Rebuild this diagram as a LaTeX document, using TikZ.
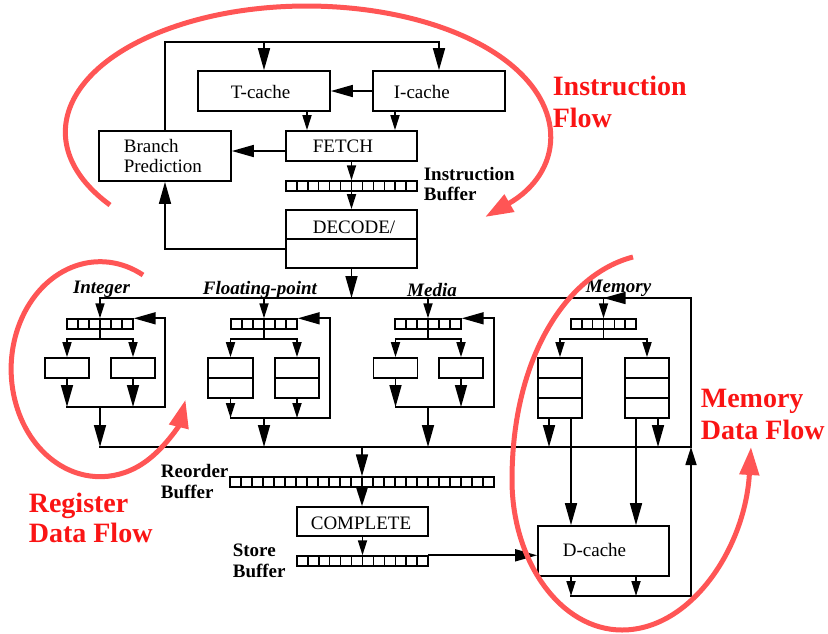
\documentclass[tikz,border=0pt]{standalone}
\usepackage{fontspec}
\setmainfont{Liberation Serif}
\usetikzlibrary{arrows.meta,calc}

\definecolor{flowred}{RGB}{255,85,85}
\definecolor{flowtext}{RGB}{250,20,20}

\tikzset{
  blk/.style={draw, rectangle, inner sep=0pt, line width=1.7pt},
  queue/.style={draw, rectangle, inner sep=0pt, line width=1.4pt, minimum height=10pt,
    path picture={\foreach \k in {1,...,#1}{
      \draw[line width=1.4pt]
        ($(path picture bounding box.south west)!{\k/#1}!(path picture bounding box.south east)$)
        -- ($(path picture bounding box.north west)!{\k/#1}!(path picture bounding box.north east)$);}}},
  tiers/.style={path picture={\foreach \k in {1,...,#1}{
      \draw[line width=1.7pt]
        ($(path picture bounding box.north west)!{\k/#1}!(path picture bounding box.south west)$)
        -- ($(path picture bounding box.north east)!{\k/#1}!(path picture bounding box.south east)$);}}},
  arrL/.style={-{Triangle[length=22pt,width=12pt]}},
  arrM/.style={-{Triangle[length=18pt,width=11pt]}},
  arrS/.style={-{Triangle[length=15pt,width=9pt]}},
  boxtext/.style={anchor=base west, inner sep=0pt, font=\fontsize{19}{22}\selectfont},
  buftag/.style={anchor=base west, inner sep=0pt, font=\bfseries\fontsize{19}{22}\selectfont},
  unitname/.style={anchor=base, inner sep=0pt, font=\bfseries\itshape\fontsize{19}{22}\selectfont},
  flowlabel/.style={anchor=base west, inner sep=0pt, text=flowtext, font=\bfseries\fontsize{28}{31}\selectfont},
  flowarc/.style={draw=flowred, line width=5pt, line cap=butt, -{Triangle[length=28pt,width=19pt]}},
}

\begin{document}
\begin{tikzpicture}[x=1pt, y=-1pt, line width=1.7pt, line cap=rect]
\useasboundingbox[fill=white] (0,0) rectangle (828,633);

% ---------- front end ----------
\node[blk, minimum width=132pt, minimum height=40pt] (tc) at (264,91) {};
\node[blk, minimum width=132pt, minimum height=40pt] (ic) at (439,91) {};
\node[blk, minimum width=132pt, minimum height=50pt] (bp) at (165,156) {};
\node[blk, minimum width=131pt, minimum height=30pt] (fe) at (351.5,146) {};
\node[queue=12, minimum width=131pt] (ib) at (351.5,186) {};
\node[blk, tiers=2, minimum width=131pt, minimum height=58pt] (de) at (351.5,239) {};

\node[boxtext] (tct) at (230,98) {T-cache};
\node[boxtext] (ict) at (393,98) {I-cache};
\node[boxtext] (fet) at (312,152) {FETCH};
\node[boxtext] (bpa) at (123,152) {Branch};
\node[boxtext] (bpb) at (123,172) {Prediction};
\node[boxtext] (det) at (312,233) {DECODE/};
\node[buftag] (iba) at (423,180) {Instruction};
\node[buftag] (ibb) at (423,200) {Buffer};

\coordinate (loop) at (165,42);
\draw[arrL] (bp.north) -- (loop) -| (ic.north);
\draw[arrL] (tc.north |- loop) -- (tc.north);
\draw[arrL] (ic.west) -- (tc.east);
\draw[arrS] ([xshift=43pt]tc.south) -- ([xshift=43pt]tc.south |- fe.north);
\draw[arrS] ([xshift=-44pt]ic.south) -- ([xshift=-44pt]ic.south |- fe.north);
\draw[arrL] ([yshift=-5pt]fe.west) -- ([yshift=-5pt]fe.west -| bp.east);
\draw[arrS] (fe.south) -- (ib.north);
\draw[arrS] (ib.south) -- (de.north);
\draw[arrL] ([yshift=-10pt]de.west) -| (bp.south);

% ---------- dispatch and result buses ----------
\coordinate (tl) at (100,298);
\coordinate (tr) at (691,298);
\coordinate (bl) at (100,447);
\coordinate (br) at (691,447);
\draw[arrL] (de.south) -- (de.south |- tl);
\draw (tl) -- (tr);
\draw (bl) -- (br);

% ---------- integer unit ----------
\node[queue=6, minimum width=66pt] (iq) at (100,324) {};
\node[blk, minimum width=44pt, minimum height=20pt] (ia) at (67,368) {};
\node[blk, minimum width=44pt, minimum height=20pt] (ix) at (133,368) {};
\coordinate (isplit) at (100,339);
\coordinate (ijoin) at (100,407);
\draw[arrS] (tl) -- (iq.north);
\draw (iq.south) -- (isplit);
\draw[arrS] (isplit) -| (ia.north);
\draw[arrS] (isplit) -| (ix.north);
\draw[arrL] (ia.south) -- (ia.south |- ijoin);
\draw[arrL] (ix.south) -- (ix.south |- ijoin);
\draw[arrL] (ia.south |- ijoin) -- (165,407) |- (iq.north east);
\draw[arrL] (ijoin) -- (bl);

% ---------- floating-point unit ----------
\node[queue=6, minimum width=66pt] (fq) at (264,324) {};
\node[blk, tiers=2, minimum width=45pt, minimum height=40pt] (fa) at (230.5,378) {};
\node[blk, tiers=2, minimum width=44pt, minimum height=40pt] (fx) at (297,378) {};
\coordinate (fsplit) at (264,339);
\coordinate (fjoin) at (264,418);
\draw[arrS] (fq.north |- tl) -- (fq.north);
\draw (fq.south) -- (fsplit);
\draw[arrS] (fsplit) -| (fa.north);
\draw[arrS] (fsplit) -| (fx.north);
\draw[arrS] (fa.south) -- (fa.south |- fjoin);
\draw[arrS] (fx.south) -- (fx.south |- fjoin);
\draw[arrL] (fa.south |- fjoin) -- (330,418) |- (fq.north east);
\draw[arrL] (fjoin) -- (fjoin |- bl);

% ---------- media unit ----------
\node[queue=6, minimum width=66pt] (mq) at (428,324) {};
\node[blk, minimum width=44pt, minimum height=20pt] (ma) at (395.5,368) {};
\node[blk, minimum width=44pt, minimum height=20pt] (mx) at (461,368) {};
\coordinate (msplit) at (428,339);
\coordinate (mjoin) at (428,407);
\draw[arrS] (mq.north |- tl) -- (mq.north);
\draw (mq.south) -- (msplit);
\draw[arrS] (msplit) -| (ma.north);
\draw[arrS] (msplit) -| (mx.north);
\draw[arrL] (ma.south) -- (ma.south |- mjoin);
\draw[arrL] (mx.south) -- (mx.south |- mjoin);
\draw[arrL] (ma.south |- mjoin) -- (494,407) |- (mq.north east);
\draw[arrL] (mjoin) -- (mjoin |- bl);

% ---------- memory unit ----------
\node[queue=6, minimum width=65pt] (eq) at (603.5,324) {};
\node[blk, tiers=3, minimum width=44pt, minimum height=60pt] (ea) at (560,388) {};
\node[blk, tiers=3, minimum width=44pt, minimum height=60pt] (ex) at (647,388) {};
\coordinate (esplit) at (603.5,339);
\draw[arrL] (br) -- (tr) -- (eq.north |- tr);
\draw[arrS] (eq.north |- tr) -- (eq.north);
\draw (eq.south) -- (esplit);
\draw[arrS] (esplit) -| (ea.north);
\draw[arrS] (esplit) -| (ex.north);
\draw[arrL] ([xshift=-11pt]ea.south) -- ([xshift=-11pt]ea.south |- bl);
\draw[arrL] ([xshift=11pt]ex.south) -- ([xshift=11pt]ex.south |- bl);

% ---------- retirement and data cache ----------
\node[queue=24, minimum width=264pt] (rq) at (362,482) {};
\node[blk, minimum width=131pt, minimum height=29pt] (co) at (362.5,521.5) {};
\node[queue=12, minimum width=131pt] (sq) at (362.5,561) {};
\node[blk, minimum width=131pt, minimum height=50pt] (dc) at (603.5,551) {};

\node[boxtext] (cot) at (310,529) {COMPLETE};
\node[boxtext] (dct) at (562,556) {D-cache};
\node[buftag] (rqa) at (160,477) {Reorder};
\node[buftag] (rqb) at (160,498) {Buffer};
\node[buftag] (sqa) at (232,556) {Store};
\node[buftag] (sqb) at (232,577) {Buffer};

\draw[arrL] (rq.north |- bl) -- (rq.north);
\draw[arrM] (rq.south) -- (rq.south |- co.north);
\draw[arrS] (co.south) -- (co.south |- sq.north);
\draw[arrL] (sq.north east) -- (sq.north east -| dc.west);
\draw[arrL] ([xshift=11pt]ea.south) -- ([xshift=11pt]ea.south |- dc.north);
\draw[arrL] ([xshift=-11pt]ex.south) -- ([xshift=-11pt]ex.south |- dc.north);
\coordinate (dret) at (691,596);
\draw[arrS] ([xshift=-32.5pt]dc.south) -- ([xshift=-32.5pt]dc.south |- dret);
\draw[arrS] ([xshift=32.5pt]dc.south) -- ([xshift=32.5pt]dc.south |- dret);
\draw[arrM] ([xshift=-32.5pt]dc.south |- dret) -- (dret) -- (br);

% ---------- unit names ----------
\node[unitname] (lint) at (101.5,293) {Integer};
\node[unitname] (lfp) at (260,294) {Floating-point};
\node[unitname] (lmed) at (432,296) {Media};
\node[unitname] (lmem) at (618.5,292) {Memory};

% ---------- flow annotations ----------
\node[flowlabel] (fia) at (552,95) {Instruction};
\node[flowlabel] (fib) at (552,127) {Flow};
\node[flowlabel] (fma) at (700,407) {Memory};
\node[flowlabel] (fmb) at (700,439) {Data Flow};
\node[flowlabel] (fra) at (28,512) {Register};
\node[flowlabel] (frb) at (28,542) {Data Flow};

\draw[flowarc] (110,205) arc[start angle=215.4, end angle=-42.4, x radius=241.5pt, y radius=126pt];
\draw[flowarc] (143,275) arc[start angle=61.2, end angle=343.5, x radius=89pt, y radius=107.5pt];
\draw[flowarc] (633,257) .. controls (567,274) and (512,357) .. (512,480)
  .. controls (512,562) and (561,630) .. (622,630)
  .. controls (691,630) and (745,548) .. (751,447);
\end{tikzpicture}
\end{document}
